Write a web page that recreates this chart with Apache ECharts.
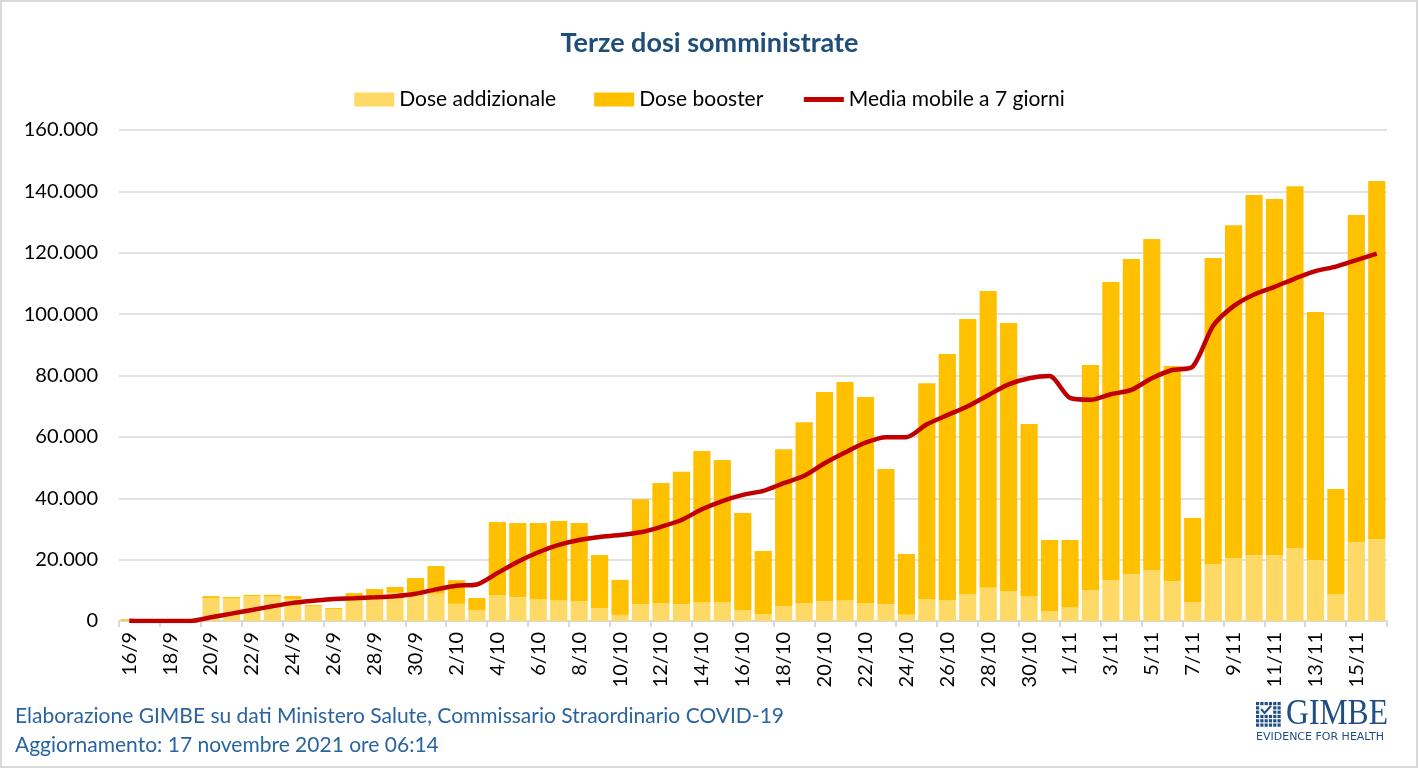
<!DOCTYPE html>
<html>
<head>
<meta charset="utf-8">
<script src="https://cdn.jsdelivr.net/npm/echarts@6/dist/echarts.min.js"></script>
<style>
html,body{margin:0;padding:0;background:#fff;}
#chart{width:1419px;height:770px;}
</style>
</head>
<body>
<div id="chart"></div>
<script>
const categories = ['16/9','17/9','18/9','19/9','20/9','21/9','22/9','23/9','24/9','25/9','26/9','27/9','28/9','29/9','30/9',
'1/10','2/10','3/10','4/10','5/10','6/10','7/10','8/10','9/10','10/10','11/10','12/10','13/10','14/10','15/10','16/10','17/10','18/10','19/10','20/10','21/10','22/10','23/10','24/10','25/10','26/10','27/10','28/10','29/10','30/10','31/10',
'1/11','2/11','3/11','4/11','5/11','6/11','7/11','8/11','9/11','10/11','11/11','12/11','13/11','14/11','15/11','16/11'];

const doseAddizionale = [200,0,0,0,7500,7300,8100,7900,7200,4900,3800,7900,8500,9200,8600,
8900,5600,3600,8400,7700,7200,6800,6500,4200,2000,5500,5900,5500,6200,6200,3600,2300,4900,5900,6500,6800,5900,5500,2000,7100,6800,8800,10800,9800,8100,3200,
4500,10100,13400,15300,16600,13000,6200,18600,20500,21500,21500,23800,19900,8800,25700,26700];

const doseBooster = [400,0,0,0,600,500,400,600,900,300,400,1200,1900,1900,5400,
9000,7700,3900,23900,24200,24700,25800,25400,17300,11400,34200,39100,43100,49200,46300,31600,20500,51100,58900,68100,71100,67100,44000,19800,70400,80200,89600,96700,87300,56100,23200,
21900,73300,97100,102700,107900,70100,27400,99700,108500,117300,116000,117900,80800,34200,106600,116700];

const mediaMobile = [100,0,0,0,1200,2400,3600,4800,5900,6600,7200,7400,7700,8100,8900,
10300,11500,11900,15600,19300,22400,24800,26400,27400,28000,28900,30700,32900,36400,39100,41100,42400,44900,47300,51400,54900,58100,59900,59900,64100,67100,70000,73600,77100,79100,79800,
72700,72100,73900,75300,79100,81800,82900,96200,102600,106400,108900,111600,114000,115500,117600,119700];

const yTicks = [0,20000,40000,60000,80000,100000,120000,140000,160000];

const titleText = 'Terze dosi somministrate';
const footer1 = 'Elaborazione GIMBE su dati Ministero Salute, Commissario Straordinario COVID-19';
const footer2 = 'Aggiornamento: 17 novembre 2021 ore 06:14';

const FONT = 'Lato, "Open Sans", sans-serif';

function fmt(v){ return String(v).replace(/\B(?=(\d{3})+(?!\d))/g,'.'); }

// logo grid squares
const logoCells = [];
for (let r = 0; r < 6; r++) {
  for (let c = 0; c < 6; c++) {
    if ((r === 1 || r === 2) && (c === 1 || c === 2 || c === 3)) continue;
    logoCells.push({type:'rect', shape:{x:1256 + c*4.3, y:702 + r*4.3, width:3.2, height:3.2}, style:{fill:'#1f4e85'}});
  }
}
logoCells.push({type:'polyline', shape:{points:[[1261,709],[1264.5,713],[1271,706]]}, style:{stroke:'#1f4e85', lineWidth:2, fill:null}});

const chart = echarts.init(document.getElementById('chart'));
chart.setOption({
  animation:false,
  backgroundColor:'#fff',
  title:{
    text:titleText, left:'center', top:25,
    textStyle:{fontFamily:FONT, fontSize:27, fontWeight:'bold', color:'#1F4E79'}
  },
  legend:{
    top:84, left:'center', itemWidth:40, itemHeight:14, itemGap:38,
    textStyle:{fontFamily:FONT, fontSize:21, color:'#000'},
    data:[
      {name:'Dose addizionale', icon:'rect'},
      {name:'Dose booster', icon:'rect'},
      {name:'Media mobile a 7 giorni', itemStyle:{opacity:0, borderWidth:0}, lineStyle:{width:5, color:'#C00000'}}
    ]
  },
  grid:{left:119, right:32, top:130, bottom:149, containLabel:false},
  xAxis:{
    type:'category', data:categories, boundaryGap:true,
    axisLine:{lineStyle:{color:'#d9d9d9', width:2}},
    axisTick:{show:true, interval:1, length:6, lineStyle:{color:'#d9d9d9', width:2}},
    axisLabel:{interval:1, rotate:90, margin:11, fontFamily:FONT, fontSize:20, color:'#000'}
  },
  yAxis:{
    type:'value', min:yTicks[0], max:yTicks[yTicks.length-1], interval:yTicks[1]-yTicks[0],
    axisLine:{show:false}, axisTick:{show:false},
    splitLine:{lineStyle:{color:'#d9d9d9', width:1.5}},
    axisLabel:{formatter:fmt, margin:21, fontFamily:FONT, fontSize:20, color:'#000'}
  },
  series:[
    {name:'Dose addizionale', type:'bar', stack:'d', data:doseAddizionale, barCategoryGap:'16%', itemStyle:{color:'#FFD966'}},
    {name:'Dose booster', type:'bar', stack:'d', data:doseBooster, barCategoryGap:'16%', itemStyle:{color:'#FFC000'}},
    {name:'Media mobile a 7 giorni', type:'line', data:mediaMobile, symbol:'none', smooth:0.25, z:5,
     lineStyle:{color:'#C00000', width:4.5}, itemStyle:{color:'#C00000'}}
  ],
  graphic:[
    {type:'rect', shape:{x:1, y:1, width:1416, height:766}, style:{fill:null, stroke:'#d9d9d9', lineWidth:2}, silent:true},
    {type:'text', left:15, top:706, style:{text:footer1, fontFamily:FONT, fontSize:21, fill:'#2A64A0'}},
    {type:'text', left:15, top:735, style:{text:footer2, fontFamily:FONT, fontSize:21, fill:'#2A64A0'}},
    {type:'group', children:logoCells},
    {type:'text', x:1286, y:697, scaleX:0.88, style:{text:'GIMBE', fontFamily:'"Liberation Serif", serif', fontSize:36, fill:'#1f4e85'}},
    {type:'text', left:1256, top:732, style:{text:'EVIDENCE FOR HEALTH', fontFamily:'"DejaVu Sans", sans-serif', fontSize:11, fill:'#1f4e85'}}
  ]
});
</script>
</body>
</html>
